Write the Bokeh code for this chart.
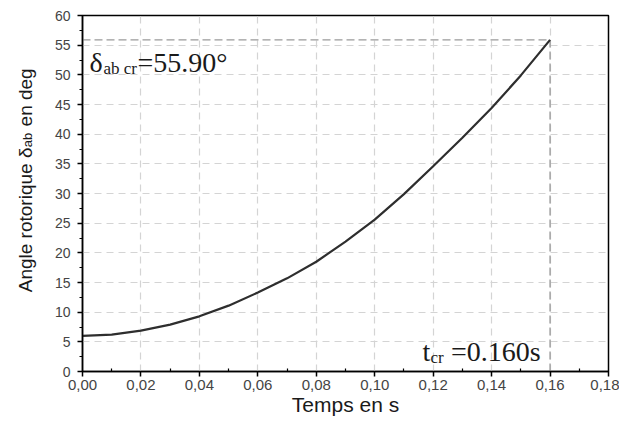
import math
from bokeh.plotting import figure
from bokeh.models import Range1d, FixedTicker, Label, LinearAxis
from bokeh.embed import file_html
from bokeh.resources import INLINE

# ---- data ----
time_s = [0.00, 0.01, 0.02, 0.03, 0.04, 0.05, 0.06, 0.07, 0.08,
          0.09, 0.10, 0.11, 0.12, 0.13, 0.14, 0.15, 0.16]
delta_deg = [6.0, 6.2, 6.9, 7.9, 9.3, 11.1, 13.3, 15.7, 18.5,
             21.9, 25.6, 29.9, 34.6, 39.4, 44.4, 49.9, 55.9]
t_cr = 0.160
delta_cr = 55.90

x_ticks = [0.0, 0.02, 0.04, 0.06, 0.08, 0.10, 0.12, 0.14, 0.16, 0.18]
x_tick_labels = ["0,00", "0,02", "0,04", "0,06", "0,08", "0,10", "0,12", "0,14", "0,16", "0,18"]
x_minor = [0.01, 0.03, 0.05, 0.07, 0.09, 0.11, 0.13, 0.15, 0.17]
y_ticks = [0, 5, 10, 15, 20, 25, 30, 35, 40, 45, 50, 55, 60]
y_minor = [2.5, 7.5, 12.5, 17.5, 22.5, 27.5, 32.5, 37.5, 42.5, 47.5, 52.5, 57.5]

SANS = "Liberation Sans"
SERIF = "Liberation Serif"
NB = "\u00a0"

p = figure(width=619, height=418,
           output_backend="svg", toolbar_location=None,
           x_range=Range1d(0, 0.18), y_range=Range1d(0, 60),
           min_border_left=82, min_border_right=11,
           min_border_top=15, min_border_bottom=40)

p.background_fill_color = "white"
p.border_fill_color = "white"
p.outline_line_color = "black"
p.outline_line_width = 1.5

# axes
p.xaxis.ticker = FixedTicker(ticks=x_ticks, minor_ticks=x_minor)
p.yaxis.ticker = FixedTicker(ticks=y_ticks, minor_ticks=y_minor)
p.xaxis.major_label_overrides = {t: l for t, l in zip(x_ticks, x_tick_labels)}
for ax in (p.xaxis, p.yaxis):
    ax.axis_line_color = "black"
    ax.axis_line_width = 1.5
    ax.major_tick_line_color = "black"
    ax.minor_tick_line_color = "black"
    ax.major_tick_line_width = 1.5
    ax.minor_tick_line_width = 1.2
    ax.major_tick_out = 5
    ax.major_tick_in = 0
    ax.major_label_text_font = SANS
    ax.major_label_text_color = "#444444"
p.xaxis.minor_tick_in = 3
p.xaxis.minor_tick_out = 0
p.yaxis.minor_tick_in = 0
p.yaxis.minor_tick_out = 3
p.xaxis.major_label_text_font_size = "15px"
p.yaxis.major_label_text_font_size = "14px"
p.xaxis.major_label_standoff = 3
p.yaxis.major_label_standoff = 7

p.xaxis.axis_label = "Temps en s"
p.xaxis.axis_label_text_font = SANS
p.xaxis.axis_label_text_font_style = "normal"
p.xaxis.axis_label_text_font_size = "21px"
p.xaxis.axis_label_text_color = "#1a1a1a"
p.xaxis.axis_label_standoff = 0

# y title: outer left axis carrying the title text and its "ab" subscript
sub_y = 39.0
ytitle = LinearAxis(ticker=FixedTicker(ticks=[sub_y], minor_ticks=[]),
                    major_label_overrides={sub_y: "ab"},
                    major_label_orientation="parallel",
                    major_label_text_font=SANS,
                    major_label_text_font_size="13px",
                    major_label_text_color="#1a1a1a",
                    major_label_standoff=16,
                    axis_line_color=None,
                    major_tick_line_color=None,
                    minor_tick_line_color=None,
                    major_tick_out=0, major_tick_in=0,
                    minor_tick_out=0, minor_tick_in=0,
                    axis_label=NB * 5 + "Angle rotorique δ" + NB * 4 + "en deg",
                    axis_label_text_font=SANS,
                    axis_label_text_font_style="normal",
                    axis_label_text_font_size="19px",
                    axis_label_text_color="#1a1a1a",
                    axis_label_standoff=-18)
p.add_layout(ytitle, "left")

# grid
for g in (p.xgrid, p.ygrid):
    g.grid_line_color = "#d4d4d4"
    g.grid_line_dash = "7 5"
    g.grid_line_width = 1.2

# critical reference lines
p.line([0, t_cr], [delta_cr, delta_cr], line_color="#9a9a9a", line_dash="8 4", line_width=1.3)
p.line([t_cr, t_cr], [0, delta_cr], line_color="#9a9a9a", line_dash="8 4", line_width=1.3)

# curve
p.line(time_s, delta_deg, line_color="#2e2e2e", line_width=2.2)

# ---- annotations ----
def lab(text, xo, y, yo, size):
    p.add_layout(Label(x=0, y=y, x_offset=xo, y_offset=yo, text=text,
                       text_font=SERIF, text_font_size=f"{size}px",
                       text_color="#1a1a1a", text_align="left",
                       text_baseline="alphabetic"))

# delta_ab cr = 55.90°
lab("δ", 7, delta_cr, -23, 28)
lab("ab cr", 21, delta_cr, -29, 17)
lab(f"={delta_cr:.2f}°", 55, delta_cr, -23, 28)

# t_cr = 0.160s
lab("t", 340, 0, 20, 28)
lab("cr", 348, 0, 14, 17)
lab(NB + f"={t_cr:.3f}s", 361.5, 0, 20, 28)

open("out.html", "w").write(file_html(p, INLINE))
